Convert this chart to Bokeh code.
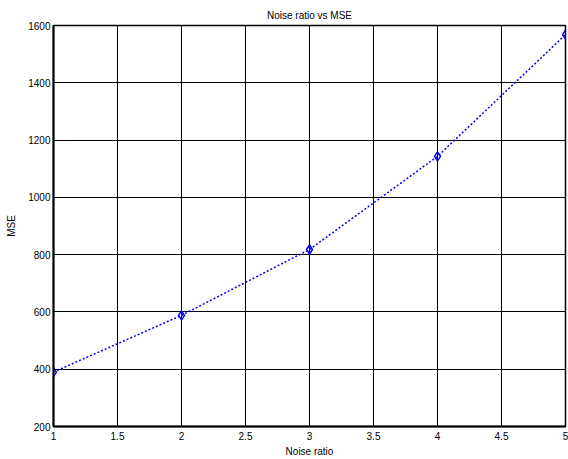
from bokeh.plotting import figure
from bokeh.embed import file_html
from bokeh.resources import INLINE
from bokeh.models import ColumnDataSource, FixedTicker, Range1d

noise_ratio = [1, 2, 3, 4, 5]
mse = [390, 588, 818, 1143, 1568]
x_ticks = [1, 1.5, 2, 2.5, 3, 3.5, 4, 4.5, 5]
y_ticks = [200, 400, 600, 800, 1000, 1200, 1400, 1600]

FONT = "Liberation Sans"

p = figure(width=568, height=459, output_backend="svg", toolbar_location=None,
           x_range=Range1d(1, 5), y_range=Range1d(200, 1600),
           title="Noise ratio vs MSE", x_axis_label="Noise ratio", y_axis_label="MSE",
           min_border_left=53, min_border_right=3, min_border_top=25, min_border_bottom=32)

p.background_fill_color = "white"
p.border_fill_color = "white"
p.outline_line_color = "black"
p.outline_line_width = 1.5

p.title.align = "center"
p.title.text_font = FONT
p.title.text_font_size = "10px"
p.title.text_font_style = "normal"
p.title.text_color = "black"

for ax in (p.xaxis[0], p.yaxis[0]):
    ax.axis_line_color = "black"
    ax.axis_line_width = 2
    ax.major_tick_in = 4
    ax.major_tick_out = 0
    ax.minor_tick_in = 0
    ax.minor_tick_out = 0
    ax.major_label_text_font = FONT
    ax.major_label_text_font_size = "10px"
    ax.major_label_text_color = "black"
    ax.axis_label_text_font = FONT
    ax.axis_label_text_font_size = "10px"
    ax.axis_label_text_font_style = "normal"
    ax.axis_label_text_color = "black"

p.xaxis[0].major_label_standoff = 5
p.xaxis[0].axis_label_standoff = 3
p.yaxis[0].major_label_standoff = 3
p.yaxis[0].axis_label_standoff = 8

p.xaxis[0].ticker = FixedTicker(ticks=x_ticks)
p.yaxis[0].ticker = FixedTicker(ticks=y_ticks)
p.xaxis[0].major_label_overrides = {1: "1", 2: "2", 3: "3", 4: "4", 5: "5"}

for g in (p.xgrid[0], p.ygrid[0]):
    g.grid_line_color = "black"
    g.grid_line_width = 1
    g.grid_line_alpha = 1.0
p.xgrid[0].ticker = FixedTicker(ticks=x_ticks)
p.ygrid[0].ticker = FixedTicker(ticks=y_ticks)

src = ColumnDataSource(dict(x=noise_ratio, y=mse))
p.line("x", "y", source=src, line_color="blue", line_width=1.5, line_dash="2 2")
p.scatter("x", "y", source=src, marker="diamond", size=9, fill_color=None,
          line_color="blue", line_width=1.5)

open("out.html", "w").write(file_html(p, INLINE))
